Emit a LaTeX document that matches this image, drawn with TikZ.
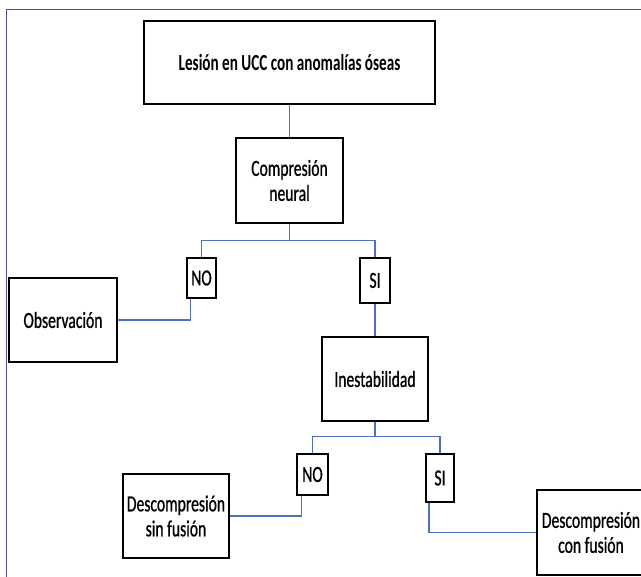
\documentclass[tikz,border=0pt]{standalone}
\usepackage{fontspec}
\newfontfamily\cfont[FakeStretch=0.68,FakeBold=0.8]{Carlito}
\newfontfamily\cbfont[FakeStretch=0.66]{Carlito Bold}
\definecolor{conn}{HTML}{4F6FC4}
\definecolor{frame}{HTML}{5A4A96}
\begin{document}
\begin{tikzpicture}[x=1pt,y=-1pt,
  box/.style={draw=black,line width=1.5pt,fill=white,inner sep=0pt,align=center,
    font=\cfont\fontsize{23}{25}\selectfont},
  conline/.style={draw=conn,line width=1.3pt}]
\useasboundingbox (0,0) rectangle (641,577);
\fill[white] (0,0) rectangle (641,577);
\draw[frame,line width=1pt] (6,577) -- (6,10) -- (641,10);
\node[box,font=\cbfont\fontsize{23}{25}\selectfont,minimum width=291pt,minimum height=83pt] (top) at (289.5,62.5) {Lesión en UCC con anomalías óseas};
\node[box,minimum width=107pt,minimum height=85pt] (comp) at (289.5,180.5) {Compresión\\neural};
\node[box,minimum width=29pt,minimum height=40pt] (no1) at (201.5,278) {NO};
\node[box,minimum width=30pt,minimum height=45pt] (si1) at (375,280.5) {SI};
\node[box,minimum width=108pt,minimum height=84pt] (obs) at (63,320) {Observación};
\node[box,minimum width=106pt,minimum height=84pt] (ines) at (375,379) {Inestabilidad};
\node[box,minimum width=31pt,minimum height=41pt] (no2) at (312.5,474.5) {NO};
\node[box,minimum width=28pt,minimum height=48pt] (si2) at (440,478) {SI};
\node[box,minimum width=106pt,minimum height=84pt] (sinf) at (176,516) {Descompresión\\sin fusión};
\node[box,minimum width=108pt,minimum height=85pt] (conf) at (591,532.5) {Descompresión\\con fusión};
\draw[conline] (top.south) -- (comp.north);
\draw[conline] (comp.south) -- ++(0,17) -| (no1.north);
\draw[conline] (comp.south) -- ++(0,17) -| (si1.north);
\draw[conline] ([xshift=-11pt]no1.south) |- (obs.east);
\draw[conline] (si1.south) -- (ines.north);
\draw[conline] (ines.south) -- ++(0,15) -| (no2.north);
\draw[conline] (ines.south) -- ++(0,15) -| (si2.north);
\draw[conline] ([xshift=-11pt]no2.south) |- (sinf.east);
\draw[conline] ([xshift=-11pt]si2.south) |- (conf.west);
\end{tikzpicture}
\end{document}
